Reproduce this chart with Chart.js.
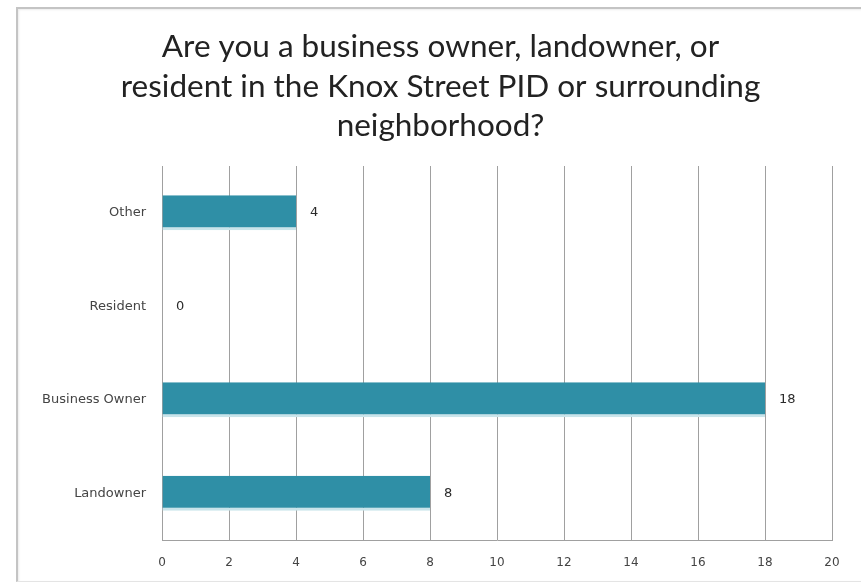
<!DOCTYPE html>
<html>
<head>
<meta charset="utf-8">
<script src="https://cdn.jsdelivr.net/npm/chart.js@4"></script>
<style>
    html, body { margin: 0; padding: 0; background: #fff; }
    .frame {
        position: absolute; left: 16px; top: 7px; width: 860px; height: 572px;
        border-left: 2px solid #c4c4c4; border-top: 2px solid #c4c4c4; border-bottom: 1px solid #e4e4e4;
        box-shadow: inset 1px 1px 2px rgba(0,0,0,0.08);
    }
    #wrap { position: absolute; left: 0; top: 0; width: 861px; height: 582px; }
</style>
</head>
<body>
<div class="frame"></div>
<div id="wrap"><canvas id="ownerChart"></canvas></div>
<script>
// Survey responses
const categories = ['Other', 'Resident', 'Business Owner', 'Landowner'];
const responses = [4, 0, 18, 8];
const titleLines = [
    'Are you a business owner, landowner, or',
    'resident in the Knox Street PID or surrounding',
    'neighborhood?'
];

const labelFont = '"DejaVu Sans", sans-serif';

// Heading drawn in the top padding, centred on the framed panel
const heading = {
    id: 'heading',
    afterDraw(chart) {
        const ctx = chart.ctx;
        const cx = chart.width / 2 + 10;
        ctx.save();
        ctx.font = '31.5px Lato, sans-serif';
        ctx.fillStyle = '#222';
        ctx.textAlign = 'center';
        ctx.textBaseline = 'middle';
        titleLines.forEach((line, i) => {
            ctx.fillText(line, cx, 47 + i * 39.5);
        });
        ctx.restore();
    }
};

// Value labels just past the end of each bar
const valueLabels = {
    id: 'valueLabels',
    afterDatasetsDraw(chart) {
        const ctx = chart.ctx;
        const meta = chart.getDatasetMeta(0);
        ctx.save();
        ctx.font = '13px ' + labelFont;
        ctx.fillStyle = '#2a2a2a';
        ctx.textAlign = 'left';
        ctx.textBaseline = 'middle';
        meta.data.forEach((bar, i) => {
            ctx.fillText(String(responses[i]), bar.x + 14, bar.y);
        });
        ctx.restore();
    }
};

const ctx = document.getElementById('ownerChart');
new Chart(ctx, {
    type: 'bar',
    data: {
        labels: categories,
        datasets: [{
            data: responses,
            backgroundColor: '#2f8fa6',
            borderColor: '#c9e4ea',
            borderWidth: { top: 0, right: 0, bottom: 3, left: 0 },
            borderSkipped: false,
            barPercentage: 0.375,
            categoryPercentage: 1
        }]
    },
    options: {
        indexAxis: 'y',
        responsive: true,
        maintainAspectRatio: false,
        animation: false,
        layout: { padding: { left: 0, right: 29, top: 166, bottom: 0 } },
        plugins: {
            legend: { display: false },
            tooltip: { enabled: false },
            title: { display: false }
        },
        scales: {
            x: {
                min: 0,
                max: 20,
                ticks: {
                    stepSize: 2,
                    color: '#444',
                    padding: 16,
                    font: { size: 12, family: labelFont }
                },
                grid: { color: '#a0a0a0', lineWidth: 1, drawTicks: false },
                border: { color: '#a0a0a0' },
                afterFit: (scale) => { scale.height = 42; }
            },
            y: {
                ticks: {
                    color: '#444',
                    padding: 16,
                    font: { size: 13, family: labelFont }
                },
                grid: { display: false, drawTicks: false },
                border: { color: '#a0a0a0' },
                afterFit: (scale) => { scale.width = 162; }
            }
        }
    },
    plugins: [valueLabels, heading]
});
</script>
</body>
</html>
